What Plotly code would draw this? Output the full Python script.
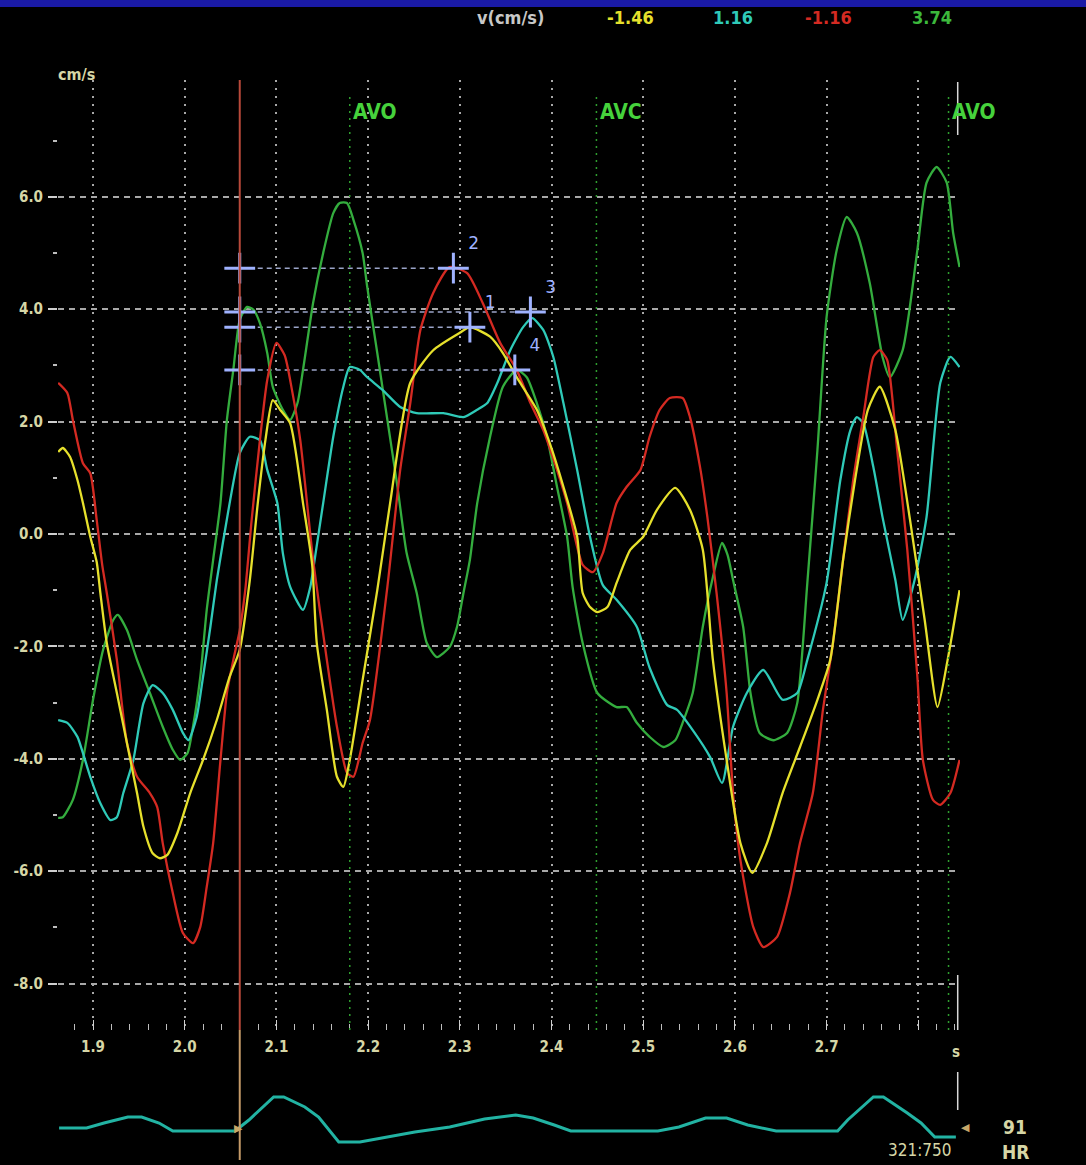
import plotly.graph_objects as go

# ---------------- data ----------------
t_yellow = [1.862,1.867,1.875,1.883,1.889,1.897,1.904,1.908,1.915,1.926,1.937,1.948,1.955,1.965,1.973,1.981,1.992,2.006,2.020,2.035,2.049,2.060,2.071,2.080,2.088,2.096,2.104,2.115,2.129,2.139,2.144,2.155,2.166,2.173,2.180,2.194,2.210,2.224,2.246,2.271,2.300,2.311,2.333,2.347,2.362,2.384,2.398,2.413,2.428,2.434,2.442,2.450,2.461,2.471,2.486,2.500,2.515,2.535,2.551,2.565,2.576,2.591,2.606,2.619,2.635,2.652,2.671,2.690,2.704,2.718,2.731,2.745,2.758,2.775,2.791,2.807,2.821,2.832,2.845]
v_yellow = [1.46,1.53,1.37,0.96,0.55,-0.05,-0.50,-1.05,-1.94,-2.83,-3.72,-4.61,-5.21,-5.68,-5.77,-5.71,-5.32,-4.61,-4.02,-3.31,-2.54,-2.06,-0.82,0.60,1.67,2.38,2.21,1.97,0.55,-0.55,-1.94,-3.13,-4.32,-4.50,-4.02,-2.60,-1.00,0.55,2.69,3.27,3.58,3.68,3.51,3.22,2.79,2.21,1.62,0.84,-0.05,-1.05,-1.30,-1.39,-1.30,-0.87,-0.28,-0.05,0.43,0.82,0.43,-0.28,-2.24,-4.02,-5.50,-6.03,-5.50,-4.61,-3.79,-2.95,-2.24,-0.46,0.96,2.21,2.62,1.85,0.25,-1.53,-3.08,-2.24,-1.00]

t_cyan = [1.862,1.872,1.883,1.889,1.897,1.908,1.919,1.926,1.933,1.944,1.955,1.965,1.976,1.987,1.998,2.004,2.013,2.020,2.028,2.035,2.049,2.060,2.071,2.082,2.090,2.101,2.107,2.115,2.129,2.137,2.140,2.151,2.162,2.173,2.180,2.191,2.199,2.216,2.235,2.253,2.282,2.304,2.319,2.330,2.341,2.355,2.369,2.379,2.391,2.402,2.413,2.428,2.442,2.456,2.471,2.493,2.507,2.526,2.537,2.554,2.573,2.586,2.598,2.613,2.631,2.652,2.668,2.679,2.700,2.715,2.726,2.733,2.740,2.751,2.761,2.775,2.783,2.796,2.809,2.824,2.835,2.845]
v_cyan = [-3.31,-3.36,-3.61,-3.90,-4.32,-4.79,-5.09,-5.04,-4.61,-4.02,-3.01,-2.69,-2.83,-3.13,-3.54,-3.67,-3.26,-2.54,-1.65,-0.82,0.55,1.44,1.73,1.67,1.14,0.55,-0.34,-0.94,-1.35,-0.94,-0.64,0.55,1.73,2.62,2.97,2.92,2.79,2.56,2.26,2.15,2.15,2.08,2.21,2.33,2.69,3.27,3.68,3.84,3.63,3.15,2.33,1.14,-0.05,-0.91,-1.17,-1.65,-2.38,-3.04,-3.13,-3.49,-3.97,-4.43,-3.43,-2.83,-2.42,-2.95,-2.83,-2.24,-0.87,0.96,1.85,2.08,1.97,1.19,0.30,-0.82,-1.53,-0.82,0.30,2.69,3.15,2.97]

t_red = [1.862,1.872,1.878,1.889,1.897,1.904,1.910,1.915,1.926,1.937,1.948,1.962,1.970,1.976,1.987,1.998,2.009,2.017,2.024,2.031,2.039,2.046,2.053,2.060,2.066,2.073,2.082,2.090,2.100,2.109,2.117,2.126,2.140,2.155,2.166,2.177,2.184,2.194,2.202,2.221,2.235,2.246,2.257,2.271,2.289,2.308,2.325,2.344,2.362,2.377,2.391,2.406,2.417,2.428,2.434,2.445,2.456,2.471,2.482,2.497,2.507,2.518,2.529,2.543,2.551,2.562,2.570,2.580,2.591,2.598,2.606,2.620,2.631,2.646,2.660,2.671,2.685,2.696,2.707,2.718,2.729,2.740,2.751,2.758,2.766,2.777,2.788,2.799,2.805,2.816,2.824,2.835,2.845]
v_red = [2.69,2.51,2.03,1.26,1.08,0.25,-0.55,-1.05,-2.24,-3.72,-4.32,-4.61,-4.86,-5.50,-6.39,-7.10,-7.28,-6.99,-6.28,-5.50,-4.02,-2.83,-2.24,-1.71,-1.00,0.25,1.67,2.74,3.40,3.18,2.56,1.67,-0.46,-2.24,-3.43,-4.25,-4.32,-3.72,-3.31,-0.94,1.14,2.33,3.63,4.29,4.75,4.64,4.11,3.40,2.92,2.33,1.85,1.14,0.55,-0.23,-0.55,-0.68,-0.34,0.55,0.84,1.14,1.73,2.21,2.42,2.42,2.08,1.19,0.30,-1.05,-2.83,-4.61,-5.80,-6.99,-7.35,-7.17,-6.39,-5.50,-4.61,-3.13,-1.94,-0.46,0.96,2.08,3.15,3.27,3.10,1.49,-0.28,-2.54,-4.02,-4.73,-4.82,-4.61,-4.02]

t_green = [1.862,1.867,1.878,1.889,1.900,1.911,1.922,1.927,1.937,1.948,1.962,1.976,1.987,1.995,2.003,2.009,2.017,2.024,2.031,2.039,2.046,2.053,2.060,2.068,2.075,2.082,2.090,2.096,2.107,2.115,2.123,2.129,2.140,2.151,2.162,2.169,2.177,2.184,2.194,2.199,2.210,2.221,2.232,2.242,2.253,2.264,2.275,2.289,2.297,2.304,2.311,2.319,2.333,2.347,2.362,2.373,2.384,2.395,2.406,2.417,2.423,2.434,2.450,2.471,2.482,2.493,2.507,2.522,2.535,2.543,2.554,2.565,2.576,2.586,2.592,2.598,2.609,2.617,2.627,2.642,2.657,2.668,2.679,2.690,2.700,2.711,2.722,2.733,2.747,2.761,2.769,2.783,2.799,2.809,2.820,2.831,2.838,2.845]
v_green = [-5.05,-5.04,-4.73,-4.02,-2.95,-2.06,-1.53,-1.44,-1.71,-2.24,-2.83,-3.43,-3.84,-4.02,-3.90,-3.43,-2.54,-1.35,-0.46,0.55,2.03,2.92,3.81,4.04,3.99,3.75,3.22,2.62,2.21,2.03,2.33,2.92,4.11,5.00,5.71,5.89,5.89,5.59,5.00,4.40,3.22,2.03,0.84,-0.34,-1.05,-1.94,-2.19,-2.01,-1.65,-1.05,-0.46,0.55,1.73,2.62,2.92,2.79,2.33,1.73,0.84,-0.05,-0.94,-1.94,-2.83,-3.08,-3.08,-3.36,-3.61,-3.79,-3.67,-3.36,-2.83,-1.65,-0.77,-0.16,-0.37,-0.82,-1.65,-2.83,-3.54,-3.67,-3.54,-3.01,-0.87,1.49,3.86,5.05,5.64,5.36,4.47,3.15,2.79,3.27,5.05,6.25,6.53,6.25,5.36,4.75]

t_ecg = [1.863,1.893,1.912,1.938,1.953,1.972,1.987,2.055,2.070,2.097,2.108,2.131,2.146,2.168,2.191,2.222,2.251,2.289,2.327,2.361,2.380,2.403,2.421,2.516,2.539,2.568,2.591,2.614,2.645,2.712,2.723,2.751,2.762,2.788,2.803,2.818,2.841]
a_ecg = [0,0,0.5,1.1,1.1,0.5,-0.3,-0.3,0.8,3.1,3.1,2.1,1.1,-1.4,-1.4,-0.9,-0.4,0.1,0.9,1.3,1.0,0.3,-0.3,-0.3,0.1,1.0,1.0,0.3,-0.3,-0.3,0.8,3.1,3.1,1.5,0.5,-0.9,-0.9]

x_ticks = [1.9, 2.0, 2.1, 2.2, 2.3, 2.4, 2.5, 2.6, 2.7, 2.8]
x_tick_labels = ["1.9", "2.0", "2.1", "2.2", "2.3", "2.4", "2.5", "2.6", "2.7", ""]
y_ticks = [-8, -6, -4, -2, 0, 2, 4, 6]
y_tick_labels = ["-8.0", "-6.0", "-4.0", "-2.0", "0.0", "2.0", "4.0", "6.0"]

event_t = [2.180, 2.449, 2.833]
event_labels = ["AVO", "AVC", "AVO"]
cursor_t = 2.060
end_t = 2.843

point_ids = ["1", "2", "3", "4"]
point_t = [2.311, 2.293, 2.377, 2.360]
point_v = [3.68, 4.73, 3.95, 2.92]

header_values = ["-1.46", "1.16", "-1.16", "3.74"]

# ---------------- styling ----------------
C_YEL, C_CYAN, C_RED, C_GRN = "#e6e02c", "#2fcab8", "#d42a22", "#34ad3e"
C_ECG = "#22b3a3"
C_TXT = "#d6d6a6"
C_MARK = "#9fb2ff"
FONT = "Liberation Sans Narrow, DejaVu Sans Condensed, Arial Narrow, sans-serif"

W, H = 1086, 1165
ML, MR, MT, MB = 58, 126, 80, 15
X0, X1 = 1.8618, 2.8455
def px(x):
    return (x - ML) / (W - ML - MR)
def py(y):
    return (H - MB - y) / (H - MT - MB)

fig = go.Figure()

# cursor guide lines to points
for pt, pv in zip(point_t, point_v):
    fig.add_trace(go.Scatter(x=[cursor_t, pt], y=[pv, pv], mode="lines",
                             line=dict(color="#9aa4c8", width=1.5, dash="5px,4px"),
                             hoverinfo="skip", showlegend=False))

for tt, vv, col in [(t_green, v_green, C_GRN), (t_cyan, v_cyan, C_CYAN),
                    (t_red, v_red, C_RED), (t_yellow, v_yellow, C_YEL)]:
    fig.add_trace(go.Scatter(x=tt, y=vv, mode="lines",
                             line=dict(color=col, width=2.3, shape="spline", smoothing=0.6),
                             showlegend=False))

# markers at cursor and at points
fig.add_trace(go.Scatter(x=[cursor_t] * len(point_v), y=point_v, mode="markers",
                         marker=dict(symbol="cross-thin", size=22, line=dict(color=C_MARK, width=3)),
                         showlegend=False))
fig.add_trace(go.Scatter(x=point_t, y=point_v, mode="markers+text", text=point_ids,
                         textposition="top right",
                         textfont=dict(color=C_MARK, size=17, family="DejaVu Sans"),
                         marker=dict(symbol="cross-thin", size=22, line=dict(color=C_MARK, width=3)),
                         showlegend=False))

# ECG strip
fig.add_trace(go.Scatter(x=t_ecg, y=a_ecg, mode="lines", xaxis="x2", yaxis="y2",
                         line=dict(color=C_ECG, width=3), showlegend=False))

fig.update_layout(
    width=W, height=H,
    margin=dict(l=ML, r=MR, t=MT, b=MB),
    paper_bgcolor="black", plot_bgcolor="black",
    font=dict(family=FONT, color=C_TXT),
    xaxis=dict(range=[X0, X1], domain=[0, 1], anchor="y",
               tickmode="array", tickvals=x_ticks, ticktext=x_tick_labels,
               ticks="inside", ticklen=10, tickcolor="#cfcfcf", tickwidth=1,
               showgrid=True, gridcolor="#a8a8a8", gridwidth=1.5, griddash="2px,6px",
               minor=dict(tick0=1.9, dtick=0.02, ticks="inside", ticklen=6,
                          tickcolor="#bdbdbd", showgrid=False),
               tickfont=dict(size=15, color=C_TXT, weight="bold", family=FONT),
               showline=False, zeroline=False, ticklabelstandoff=6),
    yaxis=dict(range=[-8.826, 8.078], domain=[py(1030), 1], anchor="x",
               tickmode="array", tickvals=y_ticks, ticktext=y_tick_labels,
               ticks="outside", ticklen=9, tickcolor="#cfcfcf", tickwidth=2,
               minor=dict(tick0=1, dtick=2, ticks="outside", ticklen=4,
                          tickcolor="#bdbdbd", tickwidth=2, showgrid=False),
               showgrid=True, gridcolor="#a8a8a8", gridwidth=1.5, griddash="6px,5px",
               tickfont=dict(size=15, color=C_TXT, weight="bold", family=FONT),
               showline=False, zeroline=False, ticklabelstandoff=2),
    xaxis2=dict(matches="x", domain=[0, 1], anchor="y2", visible=False),
    yaxis2=dict(range=[-2.2, 4.3], domain=[0, py(1085)], anchor="x2", visible=False),
)

shapes = []
# top blue band
shapes.append(dict(type="rect", xref="paper", yref="paper", x0=px(0), x1=px(W),
                   y0=py(7), y1=py(0), fillcolor="#1a1aa6", line=dict(width=0), layer="above"))
# event lines
for et in event_t:
    shapes.append(dict(type="line", xref="x", yref="paper", x0=et, x1=et,
                       y0=py(1030), y1=py(92), line=dict(color="#2f9f2f", width=1.5, dash="2px,5px")))
# red cursor
shapes.append(dict(type="line", xref="x", yref="paper", x0=cursor_t, x1=cursor_t,
                   y0=py(1030), y1=py(80), line=dict(color="#b8493a", width=2)))
shapes.append(dict(type="line", xref="x", yref="paper", x0=cursor_t, x1=cursor_t,
                   y0=py(1160), y1=py(1030), line=dict(color="#c49a68", width=2)))
# end marker segments
for y0, y1 in [(135, 82), (1030, 975), (1110, 1072)]:
    shapes.append(dict(type="line", xref="x", yref="paper", x0=end_t, x1=end_t,
                       y0=py(y0), y1=py(y1), line=dict(color="#d8d8d8", width=1.5)))
fig.update_layout(shapes=shapes)

ann = []
def text(x, y, s, color, size, bold=True, anchor="center", family=FONT):
    ann.append(dict(x=px(x), y=py(y), xref="paper", yref="paper", text=s, showarrow=False,
                    xanchor=anchor, yanchor="middle",
                    font=dict(color=color, size=size, family=family,
                              weight="bold" if bold else "normal")))

text(510, 18, "v(cm/s)", "#c8c8c8", 18)
for xv, s, col in zip([630, 733, 828, 932], header_values, [C_YEL, C_CYAN, C_RED, "#3cb83c"]):
    text(xv, 18, s, col, 18)
text(76, 75, "cm/s", C_TXT, 16)
for et, lab in zip(event_t, event_labels):
    xpix = ML + (et - X0) / (X1 - X0) * (W - ML - MR)
    text(xpix + 25, 112, lab, "#46d23c", 21)
text(956, 1052, "s", C_TXT, 15)
text(1015, 1127, "91", C_TXT, 19)
text(1015, 1152, "HR", C_TXT, 19)
text(920, 1150, "321:750", C_TXT, 17, bold=False)
text(238, 1128, "\u25b6", "#c8a868", 11, family="DejaVu Sans")
text(965, 1127, "\u25c0", "#c8a868", 11, family="DejaVu Sans")
fig.update_layout(annotations=ann)

fig.write_html("out.html", config={"displayModeBar": False},
               post_script="document.body.style.margin='0px';")
